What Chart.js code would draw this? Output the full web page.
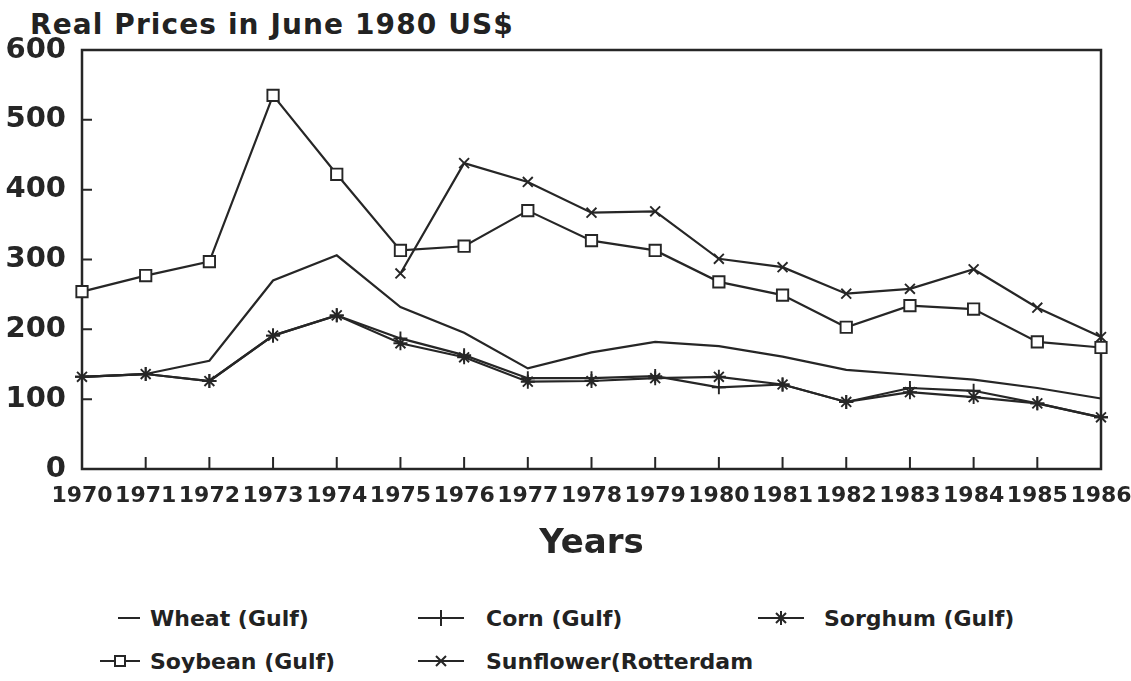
<!DOCTYPE html>
<html>
<head>
<meta charset="utf-8">
<script src="https://cdn.jsdelivr.net/npm/chart.js@4/dist/chart.umd.min.js"></script>
<style>
    body { margin: 0; background: #fff; width: 1131px; height: 681px; overflow: hidden; position: relative; font-family: "DejaVu Sans", sans-serif; color: #222; }
    #title { position: absolute; left: 30px; top: 11px; font-size: 28px; font-weight: bold; line-height: 1; letter-spacing: 1.1px; }
    #wrap { position: absolute; left: 0; top: 0; width: 1131px; height: 590px; }
    .leg { position: absolute; display: flex; align-items: center; font-size: 22px; font-weight: bold; height: 26px; }
</style>
</head>
<body>
<div id="title">Real Prices in June 1980 US$</div>
<div id="wrap"><canvas id="chart"></canvas></div>
<div id="legend"></div>
<script>
// Data
const years = ['1970', '1971', '1972', '1973', '1974', '1975', '1976', '1977', '1978',
    '1979', '1980', '1981', '1982', '1983', '1984', '1985', '1986'];
const wheat = [132, 136, 155, 270, 306, 232, 195, 144, 167, 182, 176, 161, 142, 135, 128, 116, 101];
const corn = [132, 136, 126, 191, 220, 187, 163, 130, 130, 133, 117, 121, 96, 116, 112, 94, 74];
const sorghum = [132, 136, 126, 191, 220, 180, 160, 125, 126, 130, 132, 121, 96, 110, 103, 94, 74];
const soybean = [254, 277, 297, 535, 422, 313, 319, 370, 327, 313, 268, 249, 203, 234, 229, 182, 174];
const sunflower = [null, null, null, null, null, 280, 438, 411, 367, 369, 301, 289, 251, 258, 286, 231, 189];
const yTicks = [0, 100, 200, 300, 400, 500, 600];

const INK = '#262626';

function series(label, data, style, radius) {
    return {
        label, data,
        borderColor: INK,
        borderWidth: 2.2,
        pointStyle: style || 'circle',
        pointRadius: style ? radius : 0,
        pointBorderColor: INK,
        pointBackgroundColor: '#fff',
        pointBorderWidth: 1.9,
        tension: 0,
        spanGaps: false
    };
}

// Frame around the plot and small inward tick marks
const framePlugin = {
    id: 'frame',
    beforeDatasetsDraw(chart) {
        const { ctx, chartArea: a, scales: { x, y } } = chart;
        ctx.save();
        ctx.strokeStyle = INK;
        ctx.lineWidth = 2.5;
        ctx.strokeRect(a.left, a.top, a.right - a.left, a.bottom - a.top);
        ctx.lineWidth = 2;
        ctx.beginPath();
        years.forEach((yr, i) => {
            const px = x.getPixelForValue(i);
            ctx.moveTo(px, a.bottom);
            ctx.lineTo(px, a.bottom - 12);
        });
        yTicks.forEach(v => {
            const py = y.getPixelForValue(v);
            ctx.moveTo(a.left, py);
            ctx.lineTo(a.left + 10, py);
        });
        ctx.stroke();
        ctx.restore();
    }
};

new Chart(document.getElementById('chart').getContext('2d'), {
    type: 'line',
    data: {
        labels: years,
        datasets: [
            series('Wheat (Gulf)', wheat),
            series('Corn (Gulf)', corn, 'cross', 7),
            series('Sorghum (Gulf)', sorghum, 'star', 7),
            series('Soybean (Gulf)', soybean, 'rect', 8),
            series('Sunflower(Rotterdam', sunflower, 'crossRot', 7)
        ]
    },
    options: {
        responsive: true,
        maintainAspectRatio: false,
        animation: false,
        layout: { padding: { left: 0, right: 30, top: 50, bottom: 0 } },
        plugins: { legend: { display: false }, tooltip: { enabled: false } },
        scales: {
            x: {
                offset: false,
                grid: { display: false, drawTicks: false },
                border: { display: false },
                ticks: {
                    color: INK, padding: 14, maxRotation: 0, autoSkip: false,
                    font: { family: 'DejaVu Sans', size: 22, weight: 'bold' }
                },
                title: {
                    display: true, text: 'Years', color: INK,
                    padding: { top: 4, bottom: 25 },
                    font: { family: 'DejaVu Sans', size: 34, weight: 'bold' }
                },
                afterFit: s => { s.height = 121; s.paddingLeft = 0; s.paddingRight = 0; }
            },
            y: {
                min: 0, max: 600,
                grid: { display: false, drawTicks: false },
                border: { display: false },
                afterBuildTicks: s => { s.ticks = yTicks.map(v => ({ value: v })); },
                ticks: {
                    color: INK, padding: 16,
                    font: { family: 'DejaVu Sans', size: 29, weight: 'bold' }
                },
                afterFit: s => { s.width = 82; }
            }
        }
    },
    plugins: [framePlugin]
});

// Legend laid out in columns like the printed figure
const legendItems = [
    { text: 'Wheat (Gulf)', mark: 'none', x: 100, y: 605, w: 40, gap: 10 },
    { text: 'Corn (Gulf)', mark: 'cross', x: 418, y: 605, w: 46, gap: 22 },
    { text: 'Sorghum (Gulf)', mark: 'star', x: 758, y: 605, w: 46, gap: 20 },
    { text: 'Soybean (Gulf)', mark: 'rect', x: 100, y: 648, w: 40, gap: 10 },
    { text: 'Sunflower(Rotterdam', mark: 'crossRot', x: 418, y: 648, w: 46, gap: 22 }
];

function markSvg(it) {
    const c = it.w / 2;
    let m = '';
    if (it.mark === 'cross') m = `<path d="M${c} 5V21"/>`;
    if (it.mark === 'star') m = `<path d="M${c} 6V20M${c - 7} 13H${c + 7}M${c - 5} 8L${c + 5} 18M${c + 5} 8L${c - 5} 18"/>`;
    if (it.mark === 'rect') m = `<rect x="${c - 5}" y="8" width="10" height="10" fill="#fff"/>`;
    if (it.mark === 'crossRot') m = `<path d="M${c - 5} 8L${c + 5} 18M${c + 5} 8L${c - 5} 18"/>`;
    const x1 = it.mark === 'none' ? 18 : 0;
    return `<svg width="${it.w}" height="26" stroke="${INK}" stroke-width="2" fill="none" style="margin-right:${it.gap}px">
        <path d="M${x1} 13H${it.w}"/>${m}</svg>`;
}

document.getElementById('legend').innerHTML = legendItems.map(it =>
    `<div class="leg" style="left:${it.x}px;top:${it.y}px">${markSvg(it)}<span>${it.text}</span></div>`
).join('');
</script>
</body>
</html>
